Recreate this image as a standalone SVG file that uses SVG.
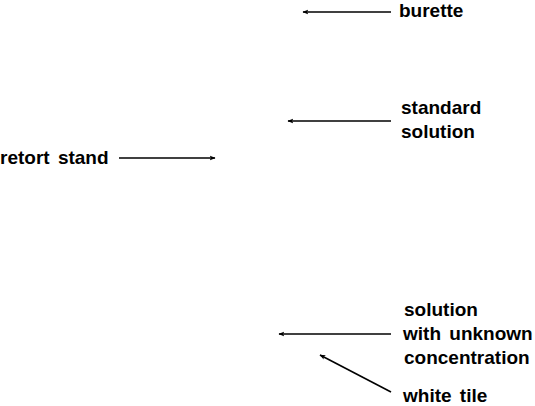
<svg xmlns="http://www.w3.org/2000/svg" width="535" height="406" viewBox="0 0 535 406">
<style>
text{font-family:"Liberation Sans",Arial,sans-serif;font-weight:bold;font-size:19px;fill:#000;word-spacing:3px}
.c{stroke:#000;stroke-width:1.6;fill:none;marker-end:url(#ah)}
</style>
<defs>
<marker id="ah" viewBox="0 0 10 10" refX="9" refY="5" markerWidth="6" markerHeight="6" orient="auto" markerUnits="userSpaceOnUse">
<path d="M0,1 L10,5 L0,9 L2.5,5 Z" fill="#000"/>
</marker>
</defs>
<rect width="535" height="406" fill="#fff"/>
<g id="connectors">
<line class="c" x1="391" y1="12" x2="303" y2="12"/>
<line class="c" x1="391" y1="121" x2="288" y2="121"/>
<line class="c" x1="119" y1="158" x2="215" y2="158"/>
<line class="c" x1="391" y1="334" x2="279" y2="334"/>
<line class="c" x1="391" y1="392" x2="320" y2="355"/>
</g>
<g id="burette"><text x="399" y="17">burette</text></g>
<g id="standard-solution"><text x="401" y="114">standard</text><text x="401" y="138">solution</text></g>
<g id="retort-stand"><text x="0" y="164">retort stand</text></g>
<g id="unknown-solution"><text x="404" y="316">solution</text><text x="403" y="340">with unknown</text><text x="404" y="364">concentration</text></g>
<g id="white-tile"><text x="403" y="402">white tile</text></g>
</svg>
